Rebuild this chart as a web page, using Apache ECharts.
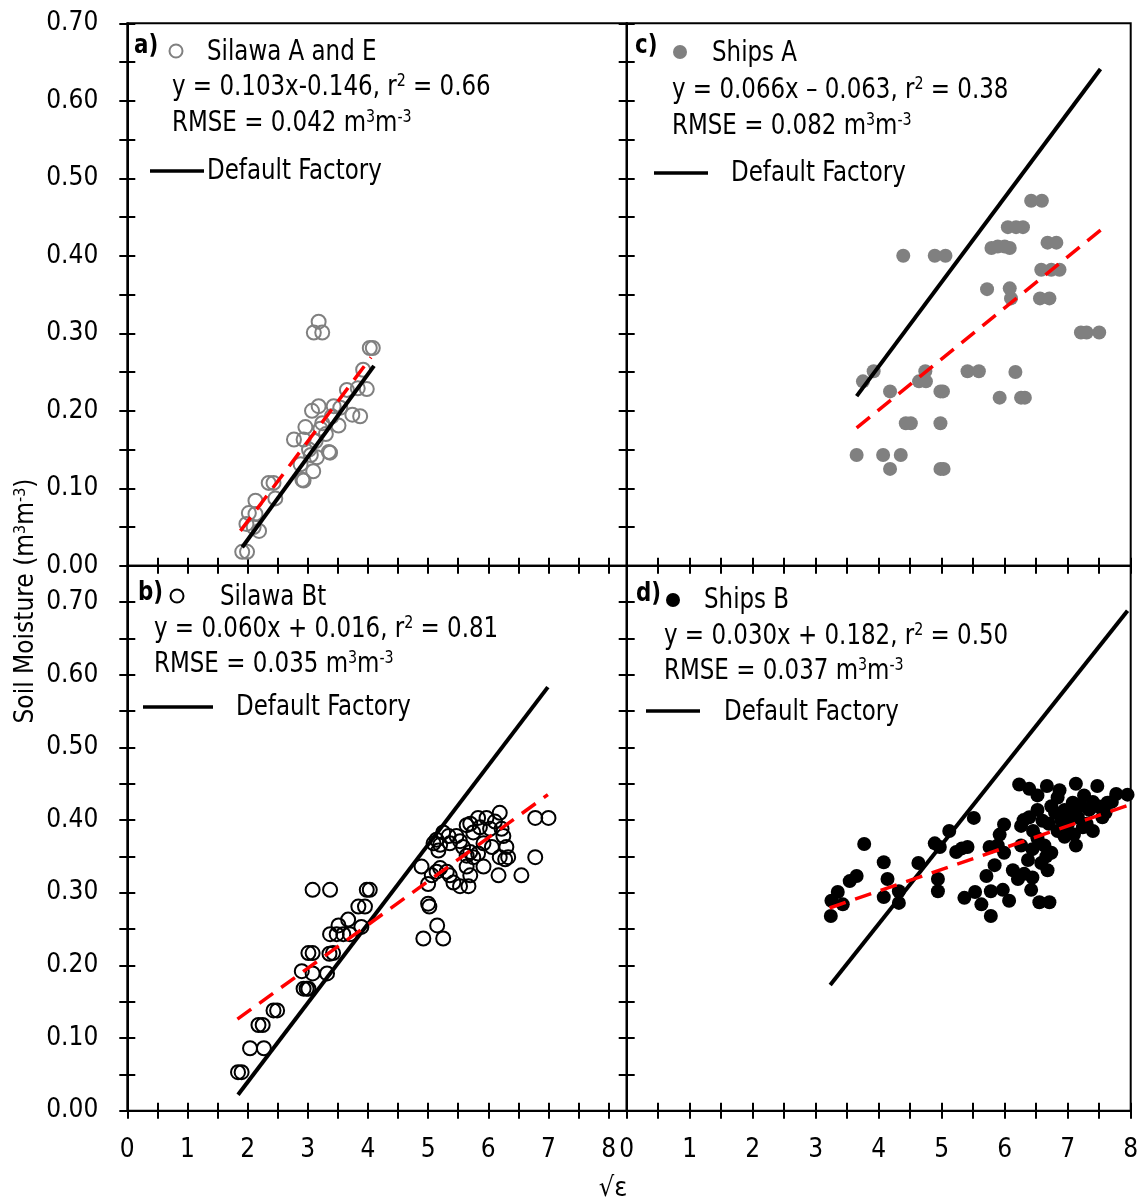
<!DOCTYPE html>
<html><head><meta charset="utf-8">
<script src="https://cdn.jsdelivr.net/npm/echarts@6.0.0/dist/echarts.min.js"></script>
<style>html,body{margin:0;padding:0;background:#fff}#c{width:1144px;height:1203px}</style>
</head><body><div id="c"></div>
<script>
// ---------- data ----------
const xTickLabels = ['0','1','2','3','4','5','6','7','8'];
const yTickLabels = ['0.00','0.10','0.20','0.30','0.40','0.50','0.60','0.70'];

const silawaAE = [[3.10,0.301],[3.24,0.301],[3.18,0.315],[4.03,0.281],[4.08,0.281],[3.92,0.253],[3.65,0.227],[3.83,0.229],[3.98,0.228],[3.74,0.195],[3.87,0.193],[3.18,0.206],[3.07,0.200],[3.43,0.206],[3.54,0.204],[2.96,0.179],[3.21,0.177],[3.40,0.193],[3.51,0.181],[2.77,0.163],[2.93,0.163],[3.35,0.147],[3.37,0.146],[3.05,0.143],[3.09,0.122],[2.91,0.111],[2.93,0.110],[2.35,0.107],[2.43,0.107],[2.46,0.087],[2.13,0.084],[2.02,0.068],[2.13,0.067],[1.98,0.054],[2.19,0.045],[1.91,0.018],[1.99,0.018],[3.24,0.184],[2.88,0.131],[3.13,0.161],[2.10,0.050],[3.02,0.150],[3.15,0.140],[3.30,0.170]];
const shipsA = [[4.39,0.400],[4.89,0.400],[5.06,0.400],[6.42,0.471],[6.59,0.471],[6.05,0.437],[6.18,0.437],[6.29,0.437],[5.79,0.410],[5.89,0.412],[6.00,0.412],[6.08,0.410],[6.68,0.417],[6.82,0.417],[6.58,0.382],[6.74,0.382],[6.87,0.382],[5.72,0.357],[6.08,0.358],[6.10,0.345],[6.56,0.345],[6.71,0.345],[7.21,0.301],[7.30,0.301],[7.50,0.301],[3.92,0.251],[3.75,0.238],[4.18,0.225],[4.74,0.251],[4.64,0.238],[4.75,0.238],[5.41,0.251],[5.59,0.251],[6.17,0.250],[4.98,0.225],[5.02,0.225],[5.92,0.217],[6.26,0.217],[6.32,0.217],[4.43,0.184],[4.51,0.184],[4.98,0.184],[3.65,0.143],[4.07,0.143],[4.35,0.143],[4.18,0.125],[4.98,0.125],[5.03,0.125]];
const silawaBt = [[1.84,0.053],[1.90,0.053],[2.04,0.086],[2.27,0.086],[2.18,0.118],[2.25,0.118],[2.43,0.138],[2.49,0.138],[2.93,0.168],[2.98,0.168],[3.01,0.168],[2.90,0.192],[3.08,0.189],[3.32,0.189],[3.01,0.217],[3.08,0.217],[3.36,0.216],[3.42,0.217],[3.08,0.304],[3.37,0.304],[3.37,0.243],[3.48,0.243],[3.59,0.243],[3.70,0.243],[3.51,0.255],[3.67,0.263],[3.84,0.281],[3.95,0.281],[3.98,0.304],[4.03,0.304],[3.89,0.253],[4.89,0.336],[5.00,0.312],[5.00,0.285],[5.02,0.281],[4.92,0.237],[5.15,0.255],[5.25,0.237],
  [5.09,0.368],[5.14,0.373],[5.20,0.366],[5.17,0.358],[5.25,0.383],[5.34,0.378],[5.36,0.368],[5.47,0.378],[5.53,0.371],[5.64,0.393],[5.70,0.395],[5.75,0.383],[5.83,0.403],[5.86,0.390],[5.92,0.368],[5.97,0.403],[6.03,0.388],[6.06,0.363],[6.11,0.398],[6.19,0.410],[6.22,0.388],[6.25,0.378],[6.30,0.363],[6.33,0.349],[6.19,0.349],[6.28,0.346],[6.17,0.324],[5.92,0.336],[5.83,0.354],[5.70,0.356],[5.58,0.363],[5.64,0.351],[5.75,0.349],[5.64,0.336],[5.70,0.324],[5.67,0.309],[5.53,0.309],[5.42,0.314],[5.36,0.324],[5.31,0.329],[5.20,0.334],[5.14,0.329],[5.06,0.324],[6.78,0.403],[7.00,0.403],[6.78,0.349],[6.55,0.324]];
const shipsB = [[3.24,0.268],[3.25,0.289],[3.35,0.301],[3.43,0.284],[3.54,0.316],[3.65,0.323],[3.77,0.367],[4.08,0.342],[4.14,0.319],[4.08,0.294],[4.32,0.302],[4.32,0.286],[4.63,0.341],[4.89,0.368],[4.97,0.363],[4.94,0.319],[4.94,0.302],[5.12,0.385],[5.23,0.356],[5.32,0.361],[5.41,0.363],[5.51,0.403],[5.36,0.293],[5.53,0.301],[5.63,0.284],[5.78,0.268],[5.71,0.323],[5.76,0.363],[5.78,0.302],[5.97,0.304],[6.07,0.289],[5.84,0.338],[5.92,0.380],[5.99,0.394],[5.89,0.365],[5.99,0.355],[6.13,0.331],[6.21,0.319],[6.31,0.326],[6.42,0.304],[6.44,0.321],[6.55,0.287],[6.71,0.287],[6.23,0.449],[6.39,0.443],[6.52,0.434],[6.67,0.447],[6.87,0.441],[7.13,0.450],[7.47,0.447],[7.77,0.436],[7.95,0.435],
  [6.26,0.392],[6.39,0.404],[6.52,0.414],[6.60,0.399],[6.74,0.419],[6.84,0.431],[6.95,0.414],[7.00,0.394],[7.08,0.424],[7.16,0.404],[7.26,0.434],[7.34,0.414],[7.40,0.385],[7.48,0.419],[7.55,0.404],[7.63,0.424],[6.84,0.385],[6.95,0.377],[7.13,0.365],[7.24,0.390],[6.63,0.365],[6.66,0.350],[6.74,0.355],[6.52,0.375],[6.44,0.360],[6.37,0.345],[6.26,0.365],[6.58,0.341],[6.68,0.331],[6.30,0.400],[6.45,0.385],[6.90,0.400],[7.05,0.410],[7.20,0.420],[6.70,0.395],[7.30,0.395],[7.10,0.380],[6.80,0.410],[7.40,0.425],[7.60,0.410],[7.70,0.425]];

const factoryA = [[1.91,0.024],[4.10,0.258]];
const fitA     = [[1.88,0.045],[4.05,0.269]];
const factoryC = [[3.65,0.219],[7.52,0.641]];
const fitC     = [[3.65,0.178],[7.55,0.435]];
const factoryB = [[1.84,0.022],[6.99,0.583]];
const fitB     = [[1.83,0.126],[6.99,0.435]];
const factoryD = [[3.23,0.173],[7.95,0.688]];
const fitD     = [[3.22,0.279],[7.98,0.421]];

// ---------- chart ----------
const FONT = '"Liberation Sans Narrow","Arial Narrow","DejaVu Sans Condensed",sans-serif';
const FS = 29;      // in-panel text (horizontally condensed by SX)
const SX = 0.88;
const TFS = 26;     // tick labels
const panels = [
  {grid:{left:127.3, top:23.3, width:499.4, height:542.5}, xMax:8.3, yMax:0.70, showX:false, showY:true,
   pts:silawaAE, sym:{color:'rgba(0,0,0,0)', borderColor:'#808080', borderWidth:2}, fac:factoryA, fit:fitA},
  {grid:{left:626.7, top:23.3, width:504.0, height:542.5}, xMax:8, yMax:0.70, showX:false, showY:false,
   pts:shipsA, sym:{color:'#808080'}, fac:factoryC, fit:fitC},
  {grid:{left:127.3, top:565.8, width:499.4, height:544.9}, xMax:8.3, yMax:0.75, showX:true, showY:true,
   pts:silawaBt, sym:{color:'rgba(0,0,0,0)', borderColor:'#000', borderWidth:2}, fac:factoryB, fit:fitB},
  {grid:{left:626.7, top:565.8, width:504.0, height:544.9}, xMax:8, yMax:0.75, showX:true, showY:false,
   pts:shipsB, sym:{color:'#000'}, fac:factoryD, fit:fitD},
];

const isLabel = (v, list, d) => list.indexOf(v.toFixed(d)) >= 0 && Math.abs(Number(v.toFixed(d)) - v) < 1e-6;
const grids = [], xAxes = [], yAxes = [], series = [];
panels.forEach((p, i) => {
  grids.push(Object.assign({show:true, borderColor:'#000', borderWidth:2, backgroundColor:'transparent'}, p.grid));
  [false, true].forEach(inside => {
    xAxes.push({gridIndex:i, type:'value', min:0, max:p.xMax, interval:0.5, position:'bottom',
      axisLine:{show:!inside, onZero:false, lineStyle:{color:'#000', width:2}},
      axisTick:{show:true, inside:inside, length:8, lineStyle:{color:'#000', width:2}},
      axisLabel:{show:p.showX && !inside, margin:27, color:'#000', fontSize:TFS, fontFamily:FONT,
        formatter:v => isLabel(v, xTickLabels, 0) ? v.toFixed(0) : ''},
      splitLine:{show:false}});
    yAxes.push({gridIndex:i, type:'value', min:0, max:p.yMax, interval:0.05, position:'left',
      axisLine:{show:!inside, onZero:false, lineStyle:{color:'#000', width:2}},
      axisTick:{show:true, inside:inside, length:8, lineStyle:{color:'#000', width:2}},
      axisLabel:{show:p.showY && !inside, margin:29, color:'#000', fontSize:TFS, fontFamily:FONT,
        formatter:v => isLabel(v, yTickLabels, 2) ? v.toFixed(2) : ''},
      splitLine:{show:false}});
  });
  const xi = 2*i, yi = 2*i;
  series.push({type:'scatter', xAxisIndex:xi, yAxisIndex:yi, data:p.pts, symbol:'circle', symbolSize:14,
    itemStyle:Object.assign({opacity:1}, p.sym), z:2, silent:true});
  series.push({type:'line', xAxisIndex:xi, yAxisIndex:yi, data:p.fac, showSymbol:false, symbol:'none',
    lineStyle:{color:'#000', width:4}, z:3, silent:true});
  series.push({type:'line', xAxisIndex:xi, yAxisIndex:yi, data:p.fit, showSymbol:false, symbol:'none',
    lineStyle:{color:'#ff0000', width:3.5, type:[17,10]}, z:4, silent:true});
});

const rich = {s:{fontSize:18, fontFamily:FONT, verticalAlign:'top', fill:'#000', lineHeight:18},
              n:{fontSize:FS, fontFamily:FONT, fill:'#000'}};
function txt(x, y, text, extra, sx) {
  return {type:'text', x:x, y:y, z:100, scaleX:(sx || SX), style:Object.assign({text:text, fill:'#000', fontSize:FS, fontFamily:FONT,
    align:'left', verticalAlign:'middle', rich:rich}, extra || {})};
}
function seg(x1, x2, y) {
  return {type:'line', z:100, shape:{x1:x1, y1:y, x2:x2, y2:y}, style:{stroke:'#000', lineWidth:3.5}};
}
const graphics = [
  // panel a
  txt(134, 46, 'a)', {fontWeight:'bold', fontSize:27}),
  {type:'circle', z:100, shape:{cx:176, cy:51, r:6.5}, style:{fill:'none', stroke:'#808080', lineWidth:2}},
  txt(207, 52, 'Silawa A and E'),
  txt(172, 87, '{n|y = 0.103x-0.146, r}{s|2}{n| = 0.66}'),
  txt(172, 123, '{n|RMSE = 0.042 m}{s|3}{n|m}{s|-3}'),
  seg(150, 204, 171),
  txt(207, 171, 'Default Factory'),
  // panel c
  txt(635, 46, 'c)', {fontWeight:'bold', fontSize:27}),
  {type:'circle', z:100, shape:{cx:680, cy:52, r:7}, style:{fill:'#808080'}},
  txt(712, 53, 'Ships A'),
  txt(672, 90, '{n|y = 0.066x \u2013 0.063, r}{s|2}{n| = 0.38}'),
  txt(672, 126, '{n|RMSE = 0.082 m}{s|3}{n|m}{s|-3}'),
  seg(654, 708, 173),
  txt(731, 173, 'Default Factory'),
  // panel b
  txt(138, 593, 'b)', {fontWeight:'bold', fontSize:27}),
  {type:'circle', z:100, shape:{cx:177, cy:596, r:6.5}, style:{fill:'none', stroke:'#000', lineWidth:2}},
  txt(220, 597, 'Silawa Bt'),
  txt(154, 629, '{n|y = 0.060x + 0.016, r}{s|2}{n| = 0.81}'),
  txt(154, 664, '{n|RMSE = 0.035 m}{s|3}{n|m}{s|-3}'),
  seg(143, 213, 707),
  txt(236, 707, 'Default Factory'),
  // panel d
  txt(636, 594, 'd)', {fontWeight:'bold', fontSize:27}),
  {type:'circle', z:100, shape:{cx:673, cy:600, r:7}, style:{fill:'#000'}},
  txt(704, 600, 'Ships B'),
  txt(664, 636, '{n|y = 0.030x + 0.182, r}{s|2}{n| = 0.50}'),
  txt(664, 671, '{n|RMSE = 0.037 m}{s|3}{n|m}{s|-3}'),
  seg(646, 700, 711),
  txt(724, 712, 'Default Factory'),
  // axis titles
  txt(613, 1189, '\u221A\u03B5', {align:'center', fontSize:27}, 1),
  {type:'text', x:26, y:601, rotation:Math.PI/2, z:100, style:{text:'{n|Soil Moisture (m}{s|3}{n|m}{s|-3}{n|)}',
    align:'center', verticalAlign:'middle', fill:'#000', fontSize:26, fontFamily:FONT,
    rich:{n:{fontSize:26, fontFamily:FONT, fill:'#000'}, s:{fontSize:16, fontFamily:FONT, verticalAlign:'top', lineHeight:16, fill:'#000'}}}}
];

const chart = echarts.init(document.getElementById('c'), null, {renderer:'canvas'});
chart.setOption({
  animation:false, backgroundColor:'#fff',
  grid:grids, xAxis:xAxes, yAxis:yAxes, series:series, graphic:graphics
});
</script></body></html>
